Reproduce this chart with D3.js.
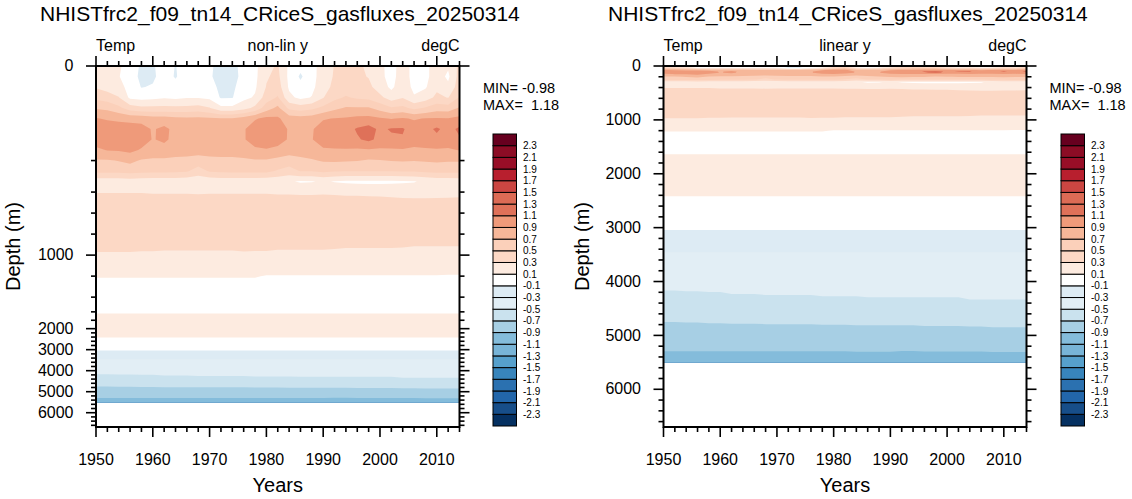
<!DOCTYPE html>
<html>
<head>
<meta charset="utf-8">
<script src="https://cdn.jsdelivr.net/npm/d3@7/dist/d3.min.js"></script>
<style>
html,body{margin:0;padding:0;background:#fff;}
svg{display:block;}
text{font-family:"Liberation Sans",Arial,Helvetica,sans-serif;fill:#000;}
</style>
</head>
<body>
<svg id="chart" width="1132" height="499"></svg>
<script>
// ---------------- DATA ----------------
const titleText = "NHISTfrc2_f09_tn14_CRiceS_gasfluxes_20250314";
const leftLabel = "Temp", rightLabel = "degC";
const minText = "MIN= -0.98", maxText = "MAX=  1.18";

// sample years (columns)
const years = [1950,1952,1954,1956,1958,1960,1962,1964,1966,1968,1970,1972,1974,1976,1978,1980,1982,1984,1986,1988,1990,1992,1994,1996,1998,2000,2002,2004,2006,2008,2010,2012,2014];
// model depth levels (m); data exist down to 5500, the last two only define the non-linear axis
const depths = [0,10,20,30,50,75,100,125,150,200,250,300,400,500,600,700,800,900,1000,1100,1200,1300,1400,1500,1750,2000,2500,3000,3500,4000,4500,5000,5500,6000,6500];

// temperature anomaly (degC), one row per depth level, one value per sample year
const tempAnom = [
/*    0 */ [0.22,0.16,0.12,0.04,-0.14,-0.13,0.02,-0.11,0.03,0.05,-0.06, -0.18,-0.17,-0.02,0.05,0.25,0.32,0.06,-0.04,0.04,0.18,0.31, 0.35,0.32,0.28,0.15,0.02,0.20,0.03,0.05,0.20,0.13,0.35],
/*   10 */ [0.22,0.17,0.11,0.00,-0.15,-0.14,0.00,-0.12,0.02,0.04,-0.07, -0.19,-0.18,-0.03,0.05,0.28,0.35,0.05,-0.13,0.03,0.20,0.32, 0.38,0.34,0.29,0.15,0.03,0.20,0.03,0.05,0.20,0.06,0.38],
/*   20 */ [0.28,0.22,0.15,0.05,-0.11,-0.08,0.04,-0.03,0.05,0.06,-0.02, -0.15,-0.14,0.00,0.07,0.31,0.40,0.07,-0.04,0.05,0.22,0.35, 0.40,0.37,0.35,0.20,0.06,0.22,0.05,0.08,0.25,0.15,0.40],
/*   30 */ [0.45,0.40,0.31,0.06,0.03,0.05,0.08,0.06,0.09,0.09,0.06, -0.12,-0.11,0.05,0.12,0.40,0.52,0.15,0.05,0.11,0.29,0.45, 0.52,0.47,0.45,0.35,0.20,0.29,0.12,0.20,0.35,0.29,0.52],
/*   50 */ [0.68,0.65,0.55,0.40,0.35,0.35,0.35,0.35,0.35,0.38,0.31, 0.15,0.15,0.22,0.35,0.60,0.75,0.45,0.40,0.45,0.55,0.65, 0.72,0.72,0.72,0.62,0.52,0.55,0.45,0.52,0.60,0.60,0.72],
/*   75 */ [0.91,0.88,0.86,0.84,0.82,0.78,0.78,0.75,0.74,0.74,0.73, 0.72,0.72,0.78,0.88,0.95,0.93,0.80,0.78,0.80,0.88,0.91, 0.92,0.95,0.96,0.92,0.89,0.92,0.88,0.91,0.92,0.91,0.95],
/*  100 */ [1.00,1.00,0.99,0.99,0.98,0.88,0.95,0.84,0.85,0.86,0.85, 0.84,0.84,0.88,1.00,1.05,1.00,0.88,0.86,0.88,1.00,1.02, 1.03,1.12,1.18,1.06,1.12,1.12,1.00,1.04,1.13,1.03,1.14],
/*  125 */ [1.00,1.01,1.00,1.00,0.98,0.89,0.93,0.85,0.86,0.86,0.86, 0.85,0.85,0.88,1.00,1.03,0.98,0.88,0.87,0.89,1.00,1.02, 1.03,1.08,1.14,1.05,1.06,1.08,1.00,1.03,1.05,1.02,1.08],
/*  150 */ [0.86,0.91,0.92,0.95,0.88,0.84,0.84,0.80,0.80,0.80,0.80, 0.80,0.80,0.82,0.86,0.88,0.85,0.80,0.80,0.82,0.87,0.88, 0.88,0.87,0.88,0.87,0.87,0.88,0.86,0.87,0.88,0.87,0.91],
/*  200 */ [0.68,0.68,0.71,0.75,0.68,0.66,0.66,0.65,0.64,0.60,0.64, 0.65,0.65,0.66,0.68,0.68,0.64,0.60,0.65,0.68,0.72,0.73, 0.72,0.71,0.68,0.69,0.71,0.72,0.71,0.72,0.73,0.72,0.72],
/*  250 */ [0.56,0.56,0.56,0.58,0.56,0.55,0.55,0.54,0.52,0.42,0.52, 0.54,0.55,0.55,0.55,0.55,0.48,0.42,0.51,0.51,0.55,0.52, 0.51,0.51,0.51,0.51,0.51,0.52,0.52,0.55,0.56,0.56,0.56],
/*  300 */ [0.18,0.18,0.18,0.20,0.18,0.17,0.17,0.17,0.16,0.15,0.16, 0.17,0.17,0.17,0.17,0.16,0.14,0.12,0.08,0.09,0.12,0.09, 0.07,0.06,0.06,0.06,0.07,0.08,0.09,0.13,0.16,0.17,0.18],
/*  400 */ [0.29,0.29,0.29,0.29,0.29,0.28,0.28,0.28,0.28,0.27,0.28, 0.28,0.28,0.28,0.28,0.28,0.27,0.27,0.26,0.26,0.27,0.26, 0.25,0.25,0.24,0.24,0.22,0.21,0.20,0.20,0.21,0.21,0.22],
/*  500 */ [0.40,0.40,0.40,0.40,0.40,0.40,0.40,0.41,0.41,0.41,0.41, 0.40,0.40,0.40,0.40,0.40,0.40,0.40,0.40,0.40,0.40,0.40, 0.39,0.39,0.39,0.38,0.38,0.37,0.37,0.37,0.37,0.38,0.38],
/*  600 */ [0.42,0.42,0.42,0.42,0.42,0.42,0.42,0.43,0.43,0.43,0.43, 0.42,0.42,0.42,0.42,0.42,0.42,0.42,0.42,0.42,0.42,0.42, 0.42,0.42,0.42,0.42,0.42,0.41,0.41,0.41,0.41,0.42,0.42],
/*  700 */ [0.43,0.43,0.43,0.43,0.43,0.43,0.43,0.44,0.44,0.44,0.44, 0.43,0.43,0.43,0.43,0.43,0.43,0.43,0.43,0.43,0.43,0.43, 0.43,0.43,0.43,0.43,0.43,0.43,0.42,0.42,0.42,0.42,0.42],
/*  800 */ [0.41,0.41,0.41,0.41,0.41,0.41,0.41,0.42,0.42,0.42,0.42, 0.41,0.41,0.41,0.41,0.41,0.41,0.41,0.41,0.41,0.41,0.41, 0.41,0.41,0.41,0.40,0.40,0.40,0.40,0.40,0.40,0.40,0.40],
/*  900 */ [0.35,0.35,0.35,0.35,0.35,0.35,0.34,0.34,0.34,0.34,0.34, 0.34,0.34,0.34,0.33,0.33,0.33,0.33,0.33,0.33,0.33,0.33, 0.32,0.32,0.32,0.32,0.32,0.32,0.31,0.31,0.31,0.31,0.31],
/* 1000 */ [0.28,0.28,0.28,0.28,0.27,0.27,0.27,0.27,0.27,0.27,0.27, 0.27,0.27,0.28,0.28,0.28,0.27,0.27,0.27,0.27,0.27,0.26, 0.26,0.26,0.26,0.26,0.26,0.25,0.25,0.25,0.25,0.25,0.25],
/* 1100 */ [0.20,0.20,0.20,0.20,0.20,0.20,0.20,0.20,0.20,0.21,0.21, 0.21,0.21,0.21,0.21,0.21,0.21,0.21,0.21,0.21,0.21,0.21, 0.21,0.21,0.22,0.22,0.22,0.22,0.22,0.22,0.22,0.22,0.22],
/* 1200 */ [0.11,0.11,0.11,0.11,0.11,0.11,0.11,0.11,0.11,0.11,0.11, 0.11,0.11,0.11,0.11,0.09,0.09,0.09,0.09,0.09,0.09,0.09, 0.09,0.09,0.09,0.09,0.09,0.09,0.09,0.09,0.09,0.08,0.08],
/* 1300 */ [0.04,0.04,0.04,0.04,0.04,0.04,0.04,0.04,0.04,0.04,0.04, 0.04,0.04,0.04,0.04,0.04,0.04,0.04,0.04,0.04,0.04,0.04, 0.04,0.04,0.04,0.04,0.04,0.04,0.04,0.04,0.04,0.04,0.04],
/* 1400 */ [0.03,0.03,0.03,0.03,0.03,0.03,0.03,0.03,0.03,0.03,0.03, 0.03,0.03,0.03,0.03,0.03,0.03,0.03,0.03,0.03,0.03,0.03, 0.03,0.03,0.03,0.03,0.03,0.03,0.03,0.03,0.03,0.03,0.03],
/* 1500 */ [0.05,0.05,0.05,0.05,0.05,0.05,0.05,0.05,0.05,0.05,0.05, 0.05,0.05,0.05,0.05,0.05,0.05,0.05,0.05,0.05,0.05,0.05, 0.05,0.05,0.05,0.05,0.05,0.05,0.05,0.05,0.05,0.05,0.05],
/* 1750 */ [0.14,0.14,0.14,0.14,0.14,0.14,0.14,0.14,0.14,0.14,0.14, 0.14,0.14,0.14,0.14,0.14,0.14,0.14,0.14,0.14,0.14,0.14, 0.14,0.14,0.14,0.14,0.14,0.14,0.14,0.14,0.14,0.14,0.14],
/* 2000 */ [0.15,0.15,0.15,0.15,0.15,0.15,0.15,0.15,0.15,0.15,0.15, 0.15,0.15,0.15,0.15,0.15,0.15,0.15,0.15,0.15,0.15,0.15, 0.15,0.15,0.15,0.15,0.15,0.15,0.15,0.15,0.15,0.15,0.15],
/* 2500 */ [0.09,0.09,0.09,0.09,0.09,0.09,0.09,0.09,0.09,0.09,0.09, 0.09,0.09,0.09,0.09,0.09,0.09,0.09,0.09,0.09,0.09,0.09, 0.09,0.09,0.09,0.09,0.09,0.09,0.09,0.09,0.09,0.09,0.09],
/* 3000 */ [-0.08,-0.08,-0.08,-0.08,-0.08,-0.08,-0.08,-0.08,-0.08,-0.08,-0.08, -0.08,-0.08,-0.08,-0.08,-0.08,-0.08,-0.08,-0.08,-0.08,-0.08,-0.08, -0.08,-0.08,-0.08,-0.08,-0.08,-0.08,-0.08,-0.08,-0.08,-0.08,-0.08],
/* 3500 */ [-0.32,-0.32,-0.32,-0.32,-0.32,-0.32,-0.32,-0.32,-0.32,-0.32,-0.32, -0.32,-0.32,-0.32,-0.32,-0.32,-0.32,-0.32,-0.32,-0.32,-0.32,-0.32, -0.32,-0.32,-0.32,-0.32,-0.32,-0.32,-0.32,-0.32,-0.32,-0.32,-0.32],
/* 4000 */ [-0.45,-0.45,-0.45,-0.45,-0.45,-0.45,-0.44,-0.44,-0.44,-0.44,-0.44, -0.44,-0.44,-0.44,-0.44,-0.44,-0.44,-0.44,-0.43,-0.43,-0.43,-0.43, -0.43,-0.43,-0.43,-0.43,-0.43,-0.42,-0.42,-0.42,-0.42,-0.42,-0.42],
/* 4500 */ [-0.60,-0.60,-0.59,-0.59,-0.58,-0.58,-0.57,-0.57,-0.57,-0.56,-0.56, -0.56,-0.56,-0.56,-0.55,-0.55,-0.55,-0.55,-0.55,-0.55,-0.55,-0.55, -0.55,-0.55,-0.55,-0.55,-0.55,-0.54,-0.54,-0.54,-0.54,-0.54,-0.54],
/* 5000 */ [-0.80,-0.80,-0.80,-0.80,-0.80,-0.80,-0.80,-0.80,-0.80,-0.80,-0.80, -0.80,-0.80,-0.80,-0.80,-0.80,-0.80,-0.79,-0.79,-0.79,-0.79,-0.79, -0.79,-0.78,-0.78,-0.78,-0.78,-0.78,-0.78,-0.77,-0.77,-0.77,-0.77],
/* 5500 */ [-0.97,-0.97,-0.97,-0.97,-0.97,-0.97,-0.97,-0.97,-0.97,-0.97,-0.97, -0.97,-0.97,-0.97,-0.97,-0.97,-0.97,-0.97,-0.97,-0.97,-0.97,-0.98, -0.98,-0.98,-0.98,-0.98,-0.98,-0.98,-0.98,-0.98,-0.98,-0.98,-0.98]
];

// contour levels and colour table (25 fills, lowest first)
const contourLevels = [-2.3,-2.1,-1.9,-1.7,-1.5,-1.3,-1.1,-0.9,-0.7,-0.5,-0.3,-0.1,0.1,0.3,0.5,0.7,0.9,1.1,1.3,1.5,1.7,1.9,2.1,2.3];
const levelLabels = ["-2.3","-2.1","-1.9","-1.7","-1.5","-1.3","-1.1","-0.9","-0.7","-0.5","-0.3","-0.1","0.1","0.3","0.5","0.7","0.9","1.1","1.3","1.5","1.7","1.9","2.1","2.3"];
const fillColors = ["#053061","#174e89","#2266aa","#2b71b0","#3885bc","#56a0cc","#78b4d7","#84bcdb","#a7cfe4","#cae2ee","#e2eef5","#ddebf4","#ffffff","#fdebe0","#fcd8c5","#fbd0ba","#f6b799","#ef9a7a","#df7159","#dc6b55","#cb4642","#b81f2e","#980e27","#8c0c25","#67001f"];

const yearTicks = [1950,1960,1970,1980,1990,2000,2010];
const depthTicks = [0,1000,2000,3000,4000,5000,6000];

// ---------------- LAYOUT ----------------
const svg = d3.select("#chart");
const plotTop = 66, plotBottom = 427;
const yearDomain = [1950, 2014];
const leftAxisBottomDepth = 6680, rightAxisBottomDepth = 6700;
const panels = [
  {x0: 96,    x1: 459.5,  mode: "nonlin", sub: "non-lin y", titleX: 40,  depthX: 20,  cbX: 493,  statX: 483},
  {x0: 663.5, x1: 1026.5, mode: "linear", sub: "linear y",  titleX: 608, depthX: 589, cbX: 1061, statX: 1049.5}
];
const majorLen = 10, minorLen = 5;
const minorYears = d3.range(1950, 2015, 2).filter(v => v % 10 !== 0);
const minorDepths = d3.range(200, 6700, 200).filter(v => v % 1000 !== 0);

// ---------------- CONTOURS ----------------
const nx = years.length, ny = tempAnom.length;
tempAnom.forEach((r, k) => { if (r.length !== nx) throw new Error("row " + k + " has " + r.length + " values"); });
const grid = new Float64Array(nx * ny);
tempAnom.forEach((row, j) => row.forEach((v, i) => { grid[j * nx + i] = v; }));
const bands = d3.contours().size([nx, ny]).thresholds(contourLevels)(grid);

function gridCoord(c, arr, n) {
  const s = Math.max(0, Math.min(n - 1, c - 0.5));
  const i = Math.min(n - 2, Math.floor(s));
  return arr[i] + (s - i) * (arr[i + 1] - arr[i]);
}

const font = '"Liberation Sans",Arial,Helvetica,sans-serif';

panels.forEach((p, pi) => {
  const x = d3.scaleLinear().domain(yearDomain).range([p.x0, p.x1]);
  let y;
  if (p.mode === "nonlin") {
    const last = depths.length - 1;
    const extra = (leftAxisBottomDepth - depths[last]) / (depths[last] - depths[last - 1]);
    const step = (plotBottom - plotTop) / (last + extra);
    y = d3.scaleLinear().domain(depths).range(depths.map((d, i) => plotTop + i * step));
  } else {
    y = d3.scaleLinear().domain([0, rightAxisBottomDepth]).range([plotTop, plotBottom]);
  }

  svg.append("clipPath").attr("id", "clip" + pi)
    .append("rect").attr("x", p.x0).attr("y", plotTop)
    .attr("width", p.x1 - p.x0).attr("height", plotBottom - plotTop);

  const proj = d3.geoTransform({
    point(cx, cy) { this.stream.point(x(gridCoord(cx, years, nx)), y(gridCoord(cy, depths, ny))); }
  });
  const path = d3.geoPath(proj);

  const g = svg.append("g").attr("clip-path", `url(#clip${pi})`);
  g.append("rect").attr("x", p.x0).attr("y", plotTop)
    .attr("width", p.x1 - p.x0).attr("height", plotBottom - plotTop).attr("fill", "#fff");
  g.selectAll("path.band").data(bands).join("path")
    .attr("class", "band")
    .attr("d", d => path(d))
    .attr("fill", (d, i) => fillColors[i + 1])
    .attr("stroke", "none");

  // axes
  function style(sel) {
    sel.select(".domain").remove();
    sel.attr("font-family", font).attr("font-size", 16);
    sel.selectAll(".tick line").attr("stroke", "#000").attr("stroke-width", 1.6);
    sel.selectAll(".tick text").attr("fill", "#000");
  }
  svg.append("g").attr("transform", `translate(0,${plotBottom})`)
    .call(d3.axisBottom(x).tickValues(yearTicks).tickSize(majorLen).tickPadding(17).tickFormat(d3.format("d")).offset(0)).call(style);
  svg.append("g").attr("transform", `translate(0,${plotBottom})`)
    .call(d3.axisBottom(x).tickValues(minorYears).tickSize(minorLen).tickFormat("").offset(0)).call(style);
  svg.append("g").attr("transform", `translate(0,${plotTop})`)
    .call(d3.axisTop(x).tickValues(yearTicks).tickSize(majorLen).tickFormat("").offset(0)).call(style);
  svg.append("g").attr("transform", `translate(0,${plotTop})`)
    .call(d3.axisTop(x).tickValues(minorYears).tickSize(minorLen).tickFormat("").offset(0)).call(style);
  svg.append("g").attr("transform", `translate(${p.x0},0)`)
    .call(d3.axisLeft(y).tickValues(depthTicks).tickSize(majorLen).tickPadding(12.5).tickFormat(d3.format("d")).offset(0)).call(style);
  svg.append("g").attr("transform", `translate(${p.x0},0)`)
    .call(d3.axisLeft(y).tickValues(minorDepths).tickSize(minorLen).tickFormat("").offset(0)).call(style);
  svg.append("g").attr("transform", `translate(${p.x1},0)`)
    .call(d3.axisRight(y).tickValues(depthTicks).tickSize(majorLen).tickFormat("").offset(0)).call(style);
  svg.append("g").attr("transform", `translate(${p.x1},0)`)
    .call(d3.axisRight(y).tickValues(minorDepths).tickSize(minorLen).tickFormat("").offset(0)).call(style);

  // frame
  svg.append("rect").attr("x", p.x0).attr("y", plotTop)
    .attr("width", p.x1 - p.x0).attr("height", plotBottom - plotTop)
    .attr("fill", "none").attr("stroke", "#000").attr("stroke-width", 2);

  // texts
  svg.append("text").attr("x", p.titleX).attr("y", 21).attr("font-size", 21).text(titleText);
  svg.append("text").attr("x", p.x0).attr("y", 51).attr("font-size", 16).text(leftLabel);
  svg.append("text").attr("x", (p.x0 + p.x1) / 2).attr("y", 51).attr("font-size", 16).attr("text-anchor", "middle").text(p.sub);
  svg.append("text").attr("x", p.x1).attr("y", 51).attr("font-size", 16).attr("text-anchor", "end").text(rightLabel);
  svg.append("text").attr("transform", `translate(${p.depthX},${(plotTop + plotBottom) / 2}) rotate(-90)`)
    .attr("font-size", 20).attr("text-anchor", "middle").text("Depth (m)");
  svg.append("text").attr("x", (p.x0 + p.x1) / 2).attr("y", 491.5).attr("font-size", 20).attr("text-anchor", "middle").text("Years");
  svg.append("text").attr("x", p.statX).attr("y", 92.5).attr("font-size", 14.5).style("white-space", "pre").text(minText);
  svg.append("text").attr("x", p.statX).attr("y", 110).attr("font-size", 14.5).style("white-space", "pre").text(maxText);

  // colour bar
  const cbTop = 134, cbBottom = 426, cbW = 23.5;
  const cbY = d3.scaleLinear().domain([0, fillColors.length]).range([cbBottom, cbTop]);
  const cb = svg.append("g");
  cb.selectAll("rect").data(fillColors).join("rect")
    .attr("x", p.cbX).attr("y", (d, k) => cbY(k + 1))
    .attr("width", cbW).attr("height", (d, k) => cbY(k) - cbY(k + 1))
    .attr("fill", d => d).attr("stroke", "#000").attr("stroke-width", 1);
  cb.selectAll("text").data(levelLabels).join("text")
    .attr("x", p.cbX + 30).attr("y", (d, k) => cbY(k + 1))
    .attr("dy", "0.36em").attr("font-size", 10).text(d => d);
});
</script>
</body>
</html>
